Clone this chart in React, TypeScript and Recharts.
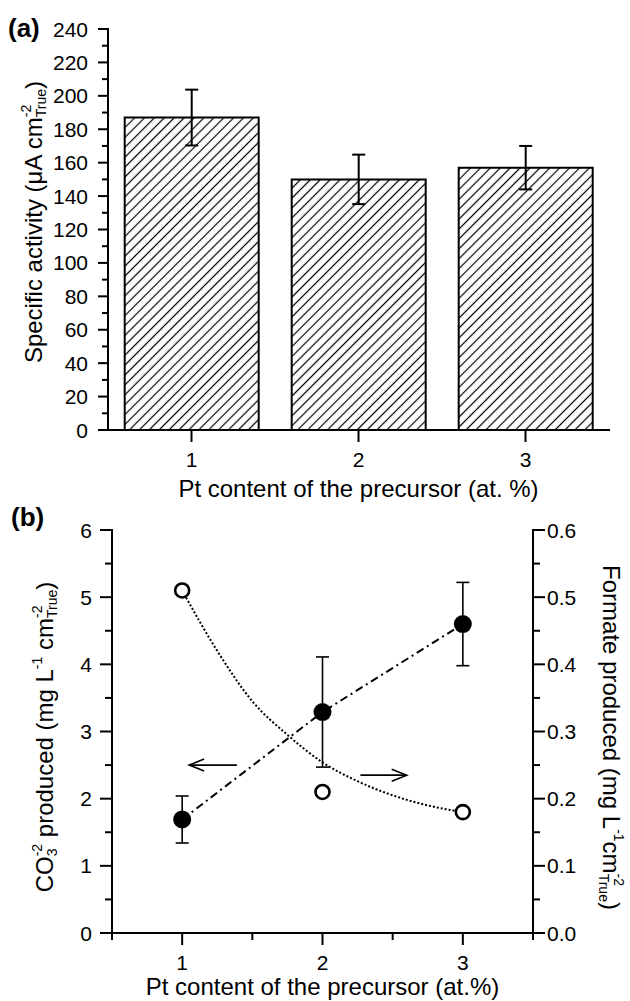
import React from 'react';
import {
  BarChart,
  Bar,
  ErrorBar,
  XAxis,
  YAxis,
  ComposedChart,
  Line,
  Scatter,
  ReferenceLine,
} from 'recharts';

const FONT = '"Liberation Sans", Arial, Helvetica, sans-serif';
const INK = '#000';
const TICK_FONT = 21;
const TITLE_FONT = 24;
const PANEL_FONT = 26;

// ---- Panel (a): specific activity vs Pt content ----
const ptContent = ['1', '2', '3'];
const specificActivity = [187, 150, 157];
const activityError = [16.7, 14.8, 13];
const activityTicks = [
  0, 10, 20, 30, 40, 50, 60, 70, 80, 90, 100, 110, 120, 130, 140, 150, 160, 170, 180, 190, 200,
  210, 220, 230, 240,
];

// ---- Panel (b): carbonate and formate produced ----
const ptLevels = [1, 2, 3];
const carbonate = [1.69, 3.29, 4.6];
const carbonateError = [0.35, 0.82, 0.62];
const formate = [0.51, 0.21, 0.18];
const formateFitX = [1, 1.25, 1.5, 1.75, 2, 2.25, 2.5, 2.75, 3];
const formateFitY = [0.51, 0.42, 0.345, 0.295, 0.254, 0.226, 0.205, 0.19, 0.18];
const ptTicks = [0.5, 1, 1.5, 2, 2.5, 3, 3.5];
const carbonateTicks = [0, 0.5, 1, 1.5, 2, 2.5, 3, 3.5, 4, 4.5, 5, 5.5, 6];
const formateTicks = [
  0, 0.05, 0.1, 0.15, 0.2, 0.25, 0.3, 0.35, 0.4, 0.45, 0.5, 0.55, 0.6,
];
// arrows telling which axis each series belongs to
const carbonateArrow = [
  { x: 1.05, y: 2.5 },
  { x: 1.39, y: 2.5 },
];
const formateArrow = [
  { x: 2.27, y: 0.235 },
  { x: 2.6, y: 0.235 },
];

const activityRows = ptContent.map((pt, i) => ({
  pt,
  activity: specificActivity[i],
  err: activityError[i],
}));
const carbonateRows = ptLevels.map((x, i) => ({ x, y: carbonate[i], err: carbonateError[i] }));
const formateRows = ptLevels.map((x, i) => ({ x, y: formate[i] }));
const formateFitRows = formateFitX.map((x, i) => ({ x, y: formateFitY[i] }));

const axisLineStyle = { stroke: INK, strokeWidth: 2, strokeLinecap: 'square' as const };

type TickOpts = {
  isMajor: (v: any) => boolean;
  majorLen: number;
  minorLen: number;
  gap: number;
  fmt: (v: any) => string;
};

const leftTick = (o: TickOpts) => (p: any) => {
  const v = p.payload.value;
  const major = o.isMajor(v);
  const len = major ? o.majorLen : o.minorLen;
  return (
    <g>
      <line x1={p.x - len} y1={p.y} x2={p.x} y2={p.y} stroke={INK} strokeWidth={2} />
      {major && (
        <text
          x={p.x - o.gap}
          y={p.y}
          dy="0.36em"
          textAnchor="end"
          fontSize={TICK_FONT}
          fontFamily={FONT}
          fill={INK}
        >
          {o.fmt(v)}
        </text>
      )}
    </g>
  );
};

const rightTick = (o: TickOpts) => (p: any) => {
  const v = p.payload.value;
  const major = o.isMajor(v);
  const len = major ? o.majorLen : o.minorLen;
  return (
    <g>
      <line x1={p.x} y1={p.y} x2={p.x + len} y2={p.y} stroke={INK} strokeWidth={2} />
      {major && (
        <text
          x={p.x + o.gap}
          y={p.y}
          dy="0.36em"
          textAnchor="start"
          fontSize={TICK_FONT}
          fontFamily={FONT}
          fill={INK}
        >
          {o.fmt(v)}
        </text>
      )}
    </g>
  );
};

const bottomTick = (o: TickOpts) => (p: any) => {
  const v = p.payload.value;
  const major = o.isMajor(v);
  const len = major ? o.majorLen : o.minorLen;
  return (
    <g>
      <line x1={p.x} y1={p.y} x2={p.x} y2={p.y + len} stroke={INK} strokeWidth={2} />
      {major && (
        <text
          x={p.x}
          y={p.y + o.gap}
          textAnchor="middle"
          fontSize={TICK_FONT}
          fontFamily={FONT}
          fill={INK}
        >
          {o.fmt(v)}
        </text>
      )}
    </g>
  );
};

const topTick = (o: TickOpts) => (p: any) => {
  const v = p.payload.value;
  const len = o.isMajor(v) ? o.majorLen : o.minorLen;
  return <line x1={p.x} y1={p.y} x2={p.x} y2={p.y - len} stroke={INK} strokeWidth={2} />;
};

const isInt = (v: number) => Math.abs(v - Math.round(v)) < 1e-6;

const supStyle = { fontSize: 14 };

const activityAxisLabel = () => (
  <g fontFamily={FONT} fill={INK}>
    <text x={8} y={37} fontSize={PANEL_FONT} fontWeight="bold">
      (a)
    </text>
    <text transform="translate(42,222) rotate(-90)" textAnchor="middle" fontSize={TITLE_FONT}>
      Specific activity (μA cm
      <tspan {...supStyle} dy={-11}>
        -2
      </tspan>
      <tspan {...supStyle} dx={-12.4} dy={15}>
        True
      </tspan>
      <tspan dy={-4}>)</tspan>
    </text>
  </g>
);

const ptAxisTitle = (text: string, dy: number) => (p: any) => {
  const vb = p.viewBox || { x: 0, y: 0, width: 0, height: 0 };
  return (
    <text
      x={vb.x + vb.width / 2}
      y={vb.y + dy}
      textAnchor="middle"
      fontSize={TITLE_FONT}
      fontFamily={FONT}
      fill={INK}
    >
      {text}
    </text>
  );
};

const carbonateAxisLabel = () => (
  <g fontFamily={FONT} fill={INK}>
    <text x={11} y={56} fontSize={PANEL_FONT} fontWeight="bold">
      (b)
    </text>
    <text transform="translate(53,267) rotate(-90)" textAnchor="middle" fontSize={TITLE_FONT}>
      CO
      <tspan {...supStyle} dy={4}>
        3
      </tspan>
      <tspan {...supStyle} dx={-7.8} dy={-15}>
        -2
      </tspan>
      <tspan dy={11}> produced (mg L</tspan>
      <tspan {...supStyle} dy={-11}>
        -1
      </tspan>
      <tspan dy={11}> cm</tspan>
      <tspan {...supStyle} dy={-11}>
        -2
      </tspan>
      <tspan {...supStyle} dx={-12.4} dy={15}>
        True
      </tspan>
      <tspan dy={-4}>)</tspan>
    </text>
  </g>
);

const formateAxisLabel = () => (
  <text
    transform="translate(603,267.5) rotate(90)"
    textAnchor="middle"
    fontSize={TITLE_FONT}
    fontFamily={FONT}
    fill={INK}
  >
    Formate produced (mg L
    <tspan {...supStyle} dy={-11}>
      -1
    </tspan>
    <tspan dy={11}>cm</tspan>
    <tspan {...supStyle} dy={-11}>
      -2
    </tspan>
    <tspan {...supStyle} dx={-12.4} dy={15}>
      True
    </tspan>
    <tspan dy={-4}>)</tspan>
  </text>
);

const arrowShape = (head: 'start' | 'end') => (p: any) => {
  const { x1, y1, x2, y2 } = p;
  const hx = head === 'start' ? x1 : x2;
  const hy = head === 'start' ? y1 : y2;
  const dir = head === 'start' ? 1 : -1;
  return (
    <g>
      <line x1={x1} y1={y1} x2={x2} y2={y2} stroke={INK} strokeWidth={1.6} />
      <polyline
        points={`${hx + dir * 15},${hy - 6} ${hx},${hy} ${hx + dir * 15},${hy + 6}`}
        fill="none"
        stroke={INK}
        strokeWidth={1.6}
      />
    </g>
  );
};

const filledDot = (p: any) => (
  <circle key={`c${p.index}`} cx={p.cx} cy={p.cy} r={9} fill={INK} stroke="none" />
);

const openDot = (p: any) => (
  <circle cx={p.cx} cy={p.cy} r={7} fill="#fff" stroke={INK} strokeWidth={2.6} />
);

function ActivityPanel() {
  return (
    <BarChart
      width={630}
      height={510}
      data={activityRows}
      margin={{ top: 29, right: 21, bottom: 0, left: 0 }}
      barCategoryGap="10%"
      style={{ fontFamily: FONT }}
    >
      <defs>
        <pattern
          id="hatch"
          patternUnits="userSpaceOnUse"
          width="7"
          height="7"
          patternTransform="rotate(45)"
        >
          <rect width="7" height="7" fill="#fff" />
          <line x1="3.5" y1="0" x2="3.5" y2="7" stroke={INK} strokeWidth="1.2" />
        </pattern>
      </defs>
      <XAxis
        dataKey="pt"
        height={80}
        tickSize={0}
        tickMargin={0}
        tickLine={false}
        axisLine={axisLineStyle}
        interval={0}
        tick={bottomTick({
          isMajor: () => true,
          majorLen: 12,
          minorLen: 12,
          gap: 36.5,
          fmt: (v) => String(v),
        })}
        label={ptAxisTitle('Pt content of the precursor (at. %)', 66.5)}
      />
      <XAxis
        xAxisId="frame"
        dataKey="pt"
        orientation="top"
        height={0}
        tick={false}
        tickLine={false}
        axisLine={axisLineStyle}
      />
      <YAxis
        width={108}
        domain={[0, 240]}
        ticks={activityTicks}
        interval={0}
        allowDataOverflow
        tickSize={0}
        tickMargin={0}
        tickLine={false}
        axisLine={axisLineStyle}
        tick={leftTick({
          isMajor: (v) => v % 20 === 0,
          majorLen: 10,
          minorLen: 6,
          gap: 20,
          fmt: (v) => String(v),
        })}
        label={activityAxisLabel}
      />
      <YAxis
        yAxisId="frame"
        orientation="right"
        width={0}
        domain={[0, 240]}
        tick={false}
        tickLine={false}
        axisLine={axisLineStyle}
      />
      <Bar
        dataKey="activity"
        fill="url(#hatch)"
        stroke={INK}
        strokeWidth={2}
        isAnimationActive={false}
      >
        <ErrorBar dataKey="err" width={6.5} strokeWidth={2} stroke={INK} />
      </Bar>
    </BarChart>
  );
}

function ProductPanel() {
  return (
    <ComposedChart
      width={630}
      height={531}
      margin={{ top: 60, right: 0, bottom: 0, left: 0 }}
      style={{ fontFamily: FONT }}
    >
      <XAxis
        xAxisId="b"
        type="number"
        dataKey="x"
        domain={[0.5, 3.5]}
        ticks={ptTicks}
        interval={0}
        allowDataOverflow
        height={68}
        tickSize={0}
        tickMargin={0}
        tickLine={false}
        axisLine={axisLineStyle}
        tick={bottomTick({
          isMajor: isInt,
          majorLen: 12,
          minorLen: 7,
          gap: 36.5,
          fmt: (v) => String(v),
        })}
        label={ptAxisTitle('Pt content of the precursor (at.%)', 62)}
      />
      <XAxis
        xAxisId="t"
        type="number"
        dataKey="x"
        orientation="top"
        domain={[0.5, 3.5]}
        ticks={ptTicks}
        interval={0}
        allowDataOverflow
        height={0}
        tickSize={0}
        tickMargin={0}
        tickLine={false}
        axisLine={axisLineStyle}
        tick={topTick({
          isMajor: isInt,
          majorLen: 10,
          minorLen: 6,
          gap: 0,
          fmt: (v) => String(v),
        })}
      />
      <YAxis
        yAxisId="left"
        width={112}
        domain={[0, 6]}
        ticks={carbonateTicks}
        interval={0}
        allowDataOverflow
        tickSize={0}
        tickMargin={0}
        tickLine={false}
        axisLine={axisLineStyle}
        tick={leftTick({
          isMajor: isInt,
          majorLen: 12,
          minorLen: 7,
          gap: 20,
          fmt: (v) => String(v),
        })}
        label={carbonateAxisLabel}
      />
      <YAxis
        yAxisId="right"
        orientation="right"
        width={97}
        domain={[0, 0.6]}
        ticks={formateTicks}
        interval={0}
        allowDataOverflow
        tickSize={0}
        tickMargin={0}
        tickLine={false}
        axisLine={axisLineStyle}
        tick={rightTick({
          isMajor: (v) => Math.round(v * 100) % 10 === 0,
          majorLen: 12,
          minorLen: 7,
          gap: 14,
          fmt: (v) => Number(v).toFixed(1),
        })}
        label={formateAxisLabel}
      />
      <Line
        xAxisId="b"
        yAxisId="right"
        data={formateFitRows}
        dataKey="y"
        type="monotone"
        stroke={INK}
        strokeWidth={2}
        strokeDasharray="2 2"
        dot={false}
        activeDot={false}
        isAnimationActive={false}
      />
      <Line
        xAxisId="b"
        yAxisId="left"
        data={carbonateRows}
        dataKey="y"
        type="linear"
        stroke={INK}
        strokeWidth={2}
        strokeDasharray="8 4 2 4"
        dot={filledDot}
        activeDot={false}
        isAnimationActive={false}
      >
        <ErrorBar dataKey="err" width={6.5} strokeWidth={1.6} stroke={INK} />
      </Line>
      <Scatter
        xAxisId="b"
        yAxisId="right"
        data={formateRows}
        dataKey="y"
        shape={openDot}
        isAnimationActive={false}
      />
      <ReferenceLine
        xAxisId="b"
        yAxisId="left"
        segment={carbonateArrow}
        shape={arrowShape('start')}
      />
      <ReferenceLine
        xAxisId="b"
        yAxisId="right"
        segment={formateArrow}
        shape={arrowShape('end')}
      />
    </ComposedChart>
  );
}

export default function App() {
  return (
    <div
      style={{
        position: 'absolute',
        left: 0,
        top: 0,
        width: 630,
        height: 1001,
        background: '#fff',
        fontFamily: FONT,
        overflow: 'hidden',
      }}
    >
      <div style={{ position: 'absolute', left: 0, top: 0 }}>
        <ActivityPanel />
      </div>
      <div style={{ position: 'absolute', left: 0, top: 470 }}>
        <ProductPanel />
      </div>
    </div>
  );
}
